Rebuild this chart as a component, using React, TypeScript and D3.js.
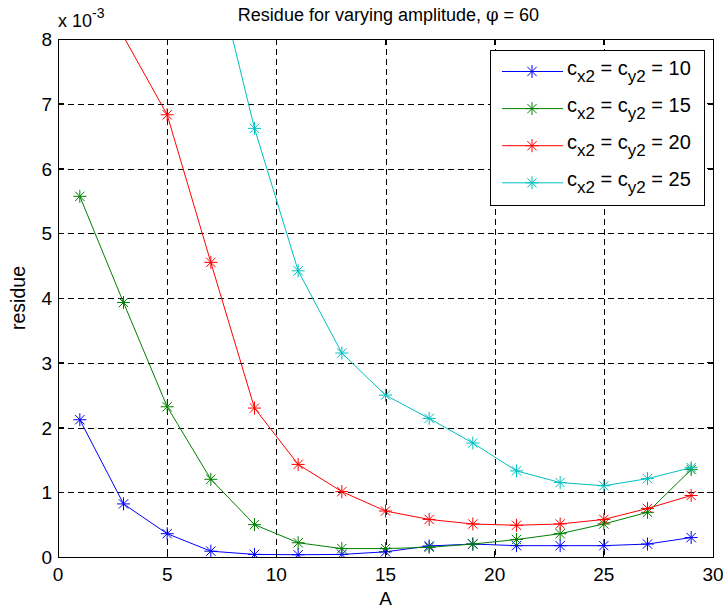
import React from 'react';
import * as d3 from 'd3';

// x values (amplitude A) shared by all series
const amplitudes = [1, 3, 5, 7, 9, 11, 13, 15, 17, 19, 21, 23, 25, 27, 29];

// residue values, in units of 1e-3
const residue10 = [2.12, 0.82, 0.36, 0.09, 0.04, 0.035, 0.04, 0.08, 0.17, 0.2, 0.175, 0.175, 0.175, 0.2, 0.3];
const residue15 = [5.57, 3.93, 2.32, 1.2, 0.5, 0.22, 0.13, 0.13, 0.15, 0.2, 0.27, 0.36, 0.51, 0.69, 1.35];
const residue20 = [10.5, 8.04, 6.83, 4.55, 2.3, 1.43, 1.01, 0.71, 0.58, 0.51, 0.49, 0.51, 0.58, 0.75, 0.95];
const residue25 = [24, 17, 12.5, 9.38, 6.62, 4.42, 3.15, 2.5, 2.14, 1.76, 1.33, 1.15, 1.1, 1.21, 1.38];

const seriesNames = ['10', '15', '20', '25'];
const seriesColors = ['#0000ff', '#008000', '#ff0000', '#00bfbf'];
const seriesValues = [residue10, residue15, residue20, residue25];

const xTicks = [0, 5, 10, 15, 20, 25, 30];
const yTicks = [0, 1, 2, 3, 4, 5, 6, 7, 8];

const W = 723;
const H = 609;
const left = 58;
const right = 713;
const top = 39;
const bottom = 557;

const font = 'Liberation Sans, Arial, Helvetica, sans-serif';

// asterisk marker: plus + cross
const Star = ({ x, y, color }: { x: number; y: number; color: string }) => {
  const r = 6.5;
  const d = r * 0.72;
  return (
    <g stroke={color} strokeWidth={1}>
      <line x1={x - r} y1={y} x2={x + r} y2={y} />
      <line x1={x} y1={y - r} x2={x} y2={y + r} />
      <line x1={x - d} y1={y - d} x2={x + d} y2={y + d} />
      <line x1={x - d} y1={y + d} x2={x + d} y2={y - d} />
    </g>
  );
};

export default function App() {
  const xScale = d3.scaleLinear().domain([0, 30]).range([left, right]);
  const yScale = d3.scaleLinear().domain([0, 8]).range([bottom, top]);
  const [yMin, yMax] = yScale.domain();

  const line = d3
    .line<number>()
    .x((_, i) => xScale(amplitudes[i]))
    .y((v) => yScale(v));

  return (
    <svg
      width={W}
      height={H}
      style={{ position: 'absolute', left: 0, top: 0, background: '#fff' }}
      fontFamily={font}
    >
      <defs>
        <clipPath id="plot">
          <rect x={left} y={top} width={right - left} height={bottom - top} />
        </clipPath>
      </defs>

      <rect x={0} y={0} width={W} height={H} fill="#fff" />

      {/* grid */}
      <g stroke="#000" strokeWidth={1} strokeDasharray="6,4" shapeRendering="crispEdges">
        {xTicks.slice(1, -1).map((t) => (
          <line key={'gx' + t} x1={Math.round(xScale(t)) + 0.5} x2={Math.round(xScale(t)) + 0.5} y1={top} y2={bottom} />
        ))}
        {yTicks.slice(1, -1).map((t) => (
          <line key={'gy' + t} y1={Math.round(yScale(t)) + 0.5} y2={Math.round(yScale(t)) + 0.5} x1={left} x2={right} />
        ))}
      </g>

      {/* series */}
      <g clipPath="url(#plot)">
        {seriesValues.map((vals, si) => (
          <g key={si}>
            <path d={line(vals) || ''} fill="none" stroke={seriesColors[si]} strokeWidth={1} />
            {vals.map((v, i) =>
              v >= yMin && v <= yMax ? (
                <Star key={i} x={xScale(amplitudes[i])} y={yScale(v)} color={seriesColors[si]} />
              ) : null
            )}
          </g>
        ))}
      </g>

      {/* axes box and ticks */}
      <g stroke="#000" strokeWidth={1} shapeRendering="crispEdges">
        <rect x={left + 0.5} y={top + 0.5} width={right - left} height={bottom - top} fill="none" />
        {xTicks.map((t) => (
          <g key={'tx' + t}>
            <line x1={xScale(t)} x2={xScale(t)} y1={bottom} y2={bottom - 6} />
            <line x1={xScale(t)} x2={xScale(t)} y1={top} y2={top + 6} />
          </g>
        ))}
        {yTicks.map((t) => (
          <g key={'ty' + t}>
            <line x1={left} x2={left + 6} y1={yScale(t)} y2={yScale(t)} />
            <line x1={right} x2={right - 6} y1={yScale(t)} y2={yScale(t)} />
          </g>
        ))}
      </g>

      {/* tick labels */}
      <g fontSize={19} fill="#000">
        {xTicks.map((t) => (
          <text key={'lx' + t} x={xScale(t)} y={581} textAnchor="middle">
            {t}
          </text>
        ))}
        {yTicks.map((t) => (
          <text key={'ly' + t} x={left - 6} y={yScale(t) + 7} textAnchor="end">
            {t}
          </text>
        ))}
      </g>

      {/* exponent */}
      <text x={left} y={27} fontSize={18} fill="#000">
        x 10
        <tspan fontSize={14} dy={-9}>-3</tspan>
      </text>

      {/* title and labels */}
      <text x={(left + right) / 2 + 3} y={21} fontSize={18} textAnchor="middle" fill="#000">
        Residue for varying amplitude, <tspan fontFamily="DejaVu Serif, serif">φ</tspan> = 60
      </text>
      <text x={(left + right) / 2} y={605} fontSize={19} textAnchor="middle" fill="#000">
        A
      </text>
      <text
        transform={`translate(25, ${(top + bottom) / 2}) rotate(-90)`}
        fontSize={19.5}
        textAnchor="middle"
        fill="#000"
      >
        residue
      </text>

      {/* legend */}
      <g>
        <rect x={490.5} y={50.5} width={214} height={155} fill="#fff" stroke="#000" strokeWidth={1} shapeRendering="crispEdges" />
        {seriesNames.map((name, i) => {
          const y = 71.5 + i * 37.1;
          return (
            <g key={name}>
              <line x1={502} x2={563} y1={y} y2={y} stroke={seriesColors[i]} strokeWidth={1} />
              <Star x={532} y={y} color={seriesColors[i]} />
              <text x={567} y={y + 3.5} fontSize={20} fill="#000">
                c<tspan fontSize={17} dy={6.7}>x2</tspan>
                <tspan dy={-6.7}> = c</tspan>
                <tspan fontSize={17} dy={6.7}>y2</tspan>
                <tspan dy={-6.7}> = {name}</tspan>
              </text>
            </g>
          );
        })}
      </g>
    </svg>
  );
}
